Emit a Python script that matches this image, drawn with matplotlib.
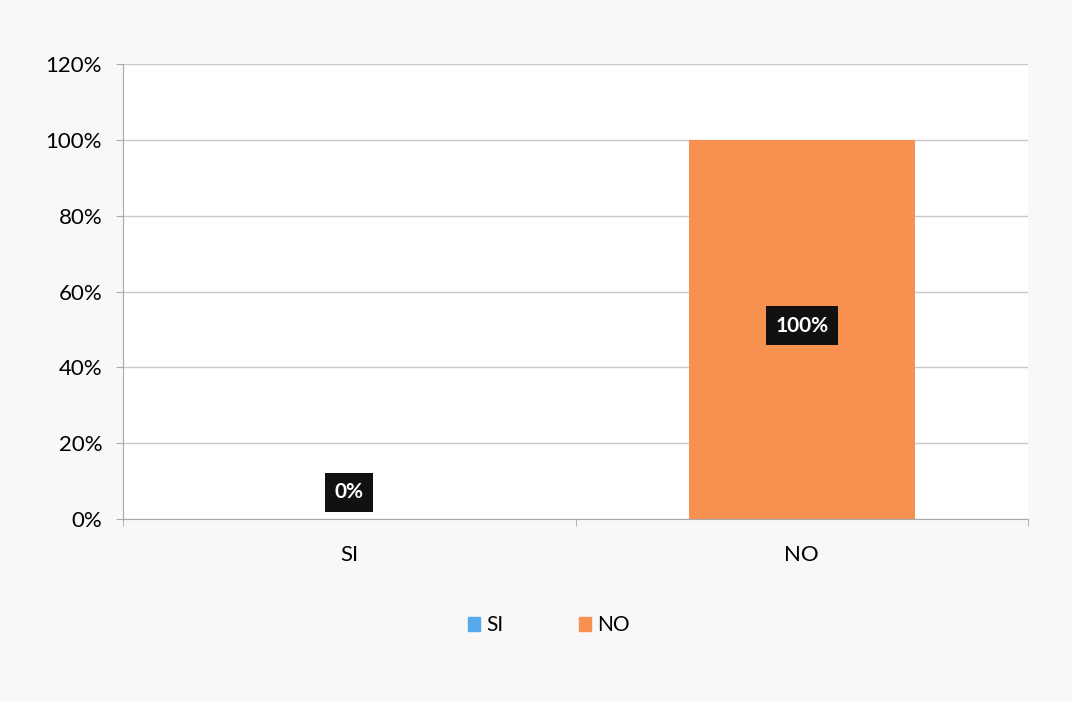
import matplotlib
matplotlib.use("Agg")
import matplotlib.pyplot as plt
from matplotlib.ticker import PercentFormatter

categorias = ["SI", "NO"]
valores = [0, 100]
etiquetas = ["0%", "100%"]
colores = ["#55A9EC", "#F8914F"]

plt.rcParams['font.family'] = ['Lato', 'DejaVu Sans']

fig = plt.figure(figsize=(10.72, 7.01), dpi=100, facecolor="#f8f8f8")
ax = fig.add_axes([0.1147, 0.2596, 0.8443, 0.6491])
ax.set_facecolor("white")

x = range(len(categorias))
barras = ax.bar(x, valores, width=0.5, color=colores, label=categorias, zorder=2)

ax.set_xlim(-0.5, 1.5)
ax.set_ylim(0, 120)
ax.set_yticks(range(0, 121, 20))
ax.yaxis.set_major_formatter(PercentFormatter(decimals=0))
ax.set_xticks(x)
ax.set_xticklabels(categorias)
ax.set_xticks([-0.5, 0.5, 1.5], minor=True)
ax.tick_params(axis="x", which="major", length=0, pad=19, labelsize=16)
ax.tick_params(axis="x", which="minor", length=5, color="#aaaaaa")
ax.tick_params(axis="y", length=5, color="#aaaaaa", labelsize=16, pad=10)
ax.grid(axis="y", color="#c8c8c8", linewidth=1, zorder=0)

for s in ["top", "right"]:
    ax.spines[s].set_visible(False)
ax.spines["left"].set_color("#aaaaaa")
ax.spines["bottom"].set_color("#aaaaaa")

# etiquetas de datos
posiciones = [max(val / 2, 7) if val < 50 else val / 2 + 1 for val in valores]
for xi, y, txt in zip(x, posiciones, etiquetas):
    ax.text(xi, y, txt, ha="center", va="center", color="white", fontsize=15,
            fontweight="bold",
            bbox=dict(boxstyle="square,pad=0.45", facecolor="#111111", edgecolor="none"),
            zorder=3)

handles = [plt.Rectangle((0, 0), 1, 1, color=c) for c in colores]
fig.legend(handles, categorias, loc="center", bbox_to_anchor=(0.512, 0.108), ncol=2,
           frameon=False, fontsize=15, handlelength=0.6, handleheight=0.6,
           handletextpad=0.3, columnspacing=3.6)

plt.savefig("out.png", dpi=100, facecolor=fig.get_facecolor())
